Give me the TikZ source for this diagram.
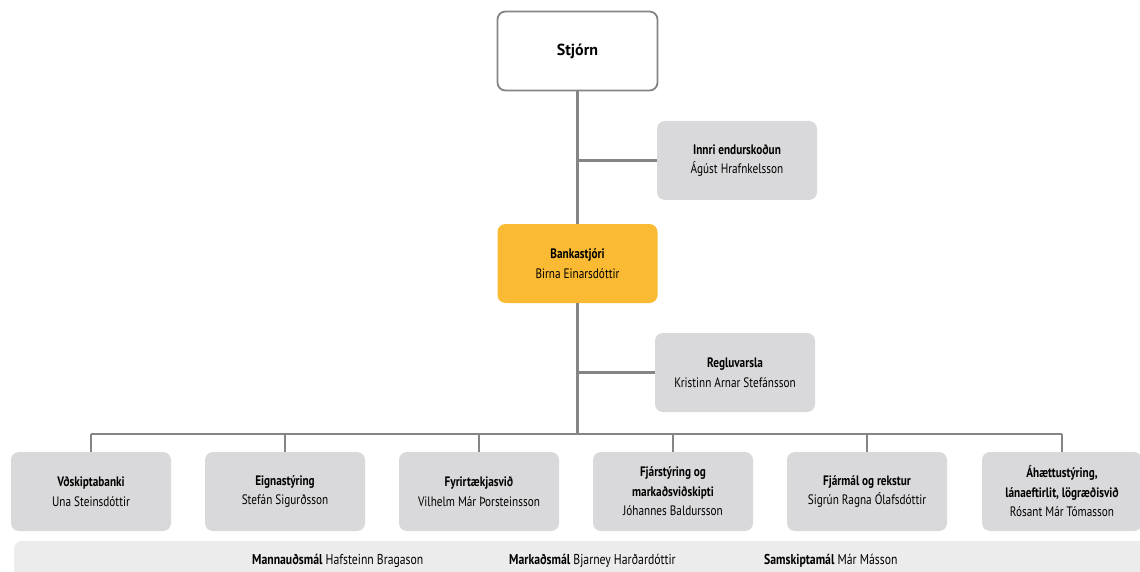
\documentclass[tikz,border=0pt]{standalone}
\usepackage{fontspec}
\setmainfont{PT Sans}
\newfontfamily\narrowfont{PT Sans}[FakeStretch=0.82]
\definecolor{linegray}{HTML}{858585}
\definecolor{boxgray}{HTML}{D9D9DB}
\definecolor{bargray}{HTML}{ECECEC}
\definecolor{bankyellow}{HTML}{FBBA33}
\tikzset{
  unit/.style={rounded corners=8pt, fill=boxgray, minimum width=160pt,
    minimum height=79pt, align=center, inner sep=0pt,
    font=\narrowfont\fontsize{13.7}{19.5}\selectfont},
  link/.style={draw=linegray, line width=2.2pt},
  staff/.style={anchor=base west, inner sep=0pt,
    font=\narrowfont\fontsize{14.3}{16}\selectfont}
}
\begin{document}
\begin{tikzpicture}[x=1pt,y=-1pt]
\useasboundingbox (0,0) rectangle (1140,572);
\clip (0,0) rectangle (1140,572);
\node[unit, fill=white, draw=linegray, line width=1.8pt,
  font=\fontsize{16}{19}\selectfont] (stjorn) at (577.5,51) {\textbf{Stjórn}};
\node[unit] (innri) at (737,160.5) {\textbf{Innri endurskoðun}\\Ágúst Hrafnkelsson};
\node[unit, fill=bankyellow] (bank) at (577.5,263.5) {\textbf{Bankastjóri}\\Birna Einarsdóttir};
\node[unit] (regl) at (735,372.5) {\textbf{Regluvarsla}\\Kristinn Arnar Stefánsson};
\coordinate (bus) at (577.5,434);
\node[unit] (vid) at (91,491.5) {\textbf{Vðskiptabanki}\\Una Steinsdóttir};
\node[unit] (eign) at (285,491.5) {\textbf{Eignastýring}\\Stefán Sigurðsson};
\node[unit] (fyrir) at (479,491.5) {\textbf{Fyrirtækjasvið}\\Vilhelm Már Þorsteinsson};
\node[unit] (fjarst) at (673,491.5) {\textbf{Fjárstýring og}\\\textbf{markaðsviðskipti}\\Jóhannes Baldursson};
\node[unit] (fjarm) at (867,491.5) {\textbf{Fjármál og rekstur}\\Sigrún Ragna Ólafsdóttir};
\node[unit] (aha) at (1062,491.5) {\textbf{Áhættustýring,}\\\textbf{lánaeftirlit, lögræðisvið}\\Rósant Már Tómasson};
% connectors
\draw[link] (stjorn) -- (bank);
\draw[link] (innri.west) -- (innri.west -| stjorn);
\draw[link] (bank.south) -- (bus);
\draw[link] (regl.west) -- (regl.west -| bank);
\draw[link] (vid.north |- bus) -- (aha.north |- bus);
\foreach \n in {vid,eign,fyrir,fjarst,fjarm,aha}
  \draw[link] (\n.north) -- (\n.north |- bus);
% bottom bar
\fill[bargray, rounded corners=8pt] (14,541) rectangle (1152,590);
\node[staff] (mann) at (252,564) {\textbf{Mannauðsmál} Hafsteinn Bragason};
\node[staff] (mark) at (509,564) {\textbf{Markaðsmál} Bjarney Harðardóttir};
\node[staff] (samsk) at (764,564) {\textbf{Samskiptamál} Már Másson};
\end{tikzpicture}
\end{document}
